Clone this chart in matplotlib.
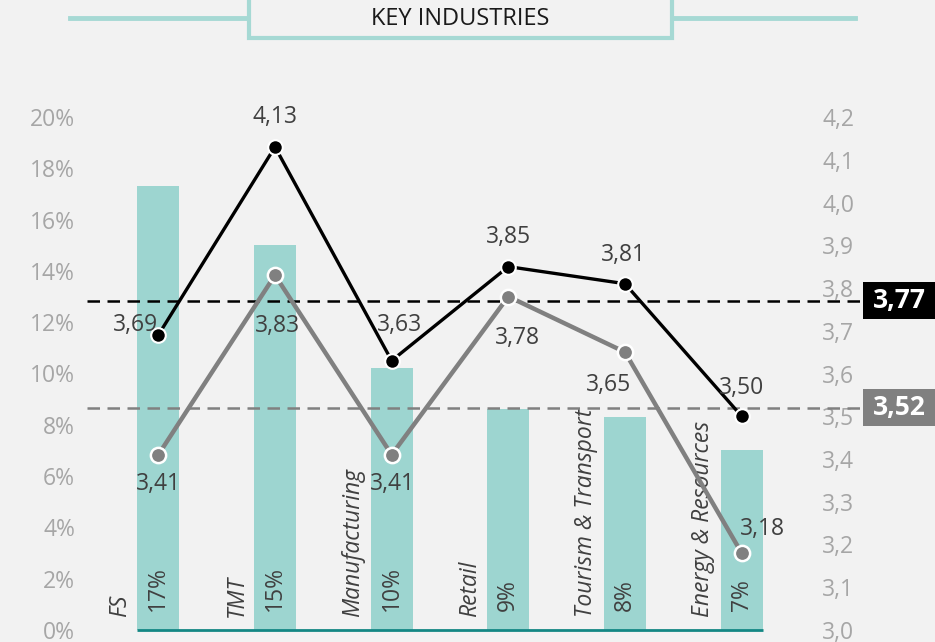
import matplotlib
matplotlib.use("Agg")
import matplotlib.pyplot as plt
import matplotlib.transforms as mtrans
from matplotlib.patches import Rectangle
import numpy as np

plt.rcParams['font.family'] = ['Open Sans', 'DejaVu Sans']

categories = ["FS", "TMT", "Manufacturing", "Retail", "Tourism & Transport", "Energy & Resources"]
share = [17.3, 15.0, 10.2, 8.6, 8.3, 7.0]
share_labels = ["17%", "15%", "10%", "9%", "8%", "7%"]
score_black = [3.69, 4.13, 3.63, 3.85, 3.81, 3.50]
score_grey = [3.41, 3.83, 3.41, 3.78, 3.65, 3.18]
avg_black = 3.77
avg_grey = 3.52
title = "KEY INDUSTRIES"

BG = '#f2f2f2'
BAR = '#9dd5d0'
TEAL_DARK = '#138784'
TITLE_TEAL = '#a6d9d4'
TICK = '#a6a6a6'
TXT = '#404040'

W, H = 935, 642
fig = plt.figure(figsize=(W/100, H/100), dpi=100, facecolor=BG)
ax = fig.add_axes([100/W, 12/H, 700/W, 513/H])
ax.set_facecolor(BG)
ax2 = ax.twinx()

x = np.arange(len(categories))
bw = 0.36
ax.bar(x, share, width=bw, color=BAR, zorder=2)
ax.hlines(0, x[0]-bw/2, x[-1]+bw/2, color=TEAL_DARK, lw=2, zorder=3, clip_on=False)
ax.set_xlim(-0.5, 5.5)
ax.set_ylim(0, 20)
ax.set_yticks(range(0, 21, 2))
ax.set_yticklabels([f"{v}%" for v in range(0, 21, 2)])
ax.set_xticks([])
ax.tick_params(axis='y', length=0, pad=18, labelsize=16.5, labelcolor=TICK)

for i in x:
    ax.text(i, 0.75, share_labels[i], rotation=90, ha='center', va='bottom',
            fontsize=16.5, color=TXT, zorder=4)
    ax.text(i - 0.33, 0.5, categories[i], rotation=90, ha='center', va='bottom',
            fontsize=16.5, color=TXT, style='italic', zorder=4)

ax2.set_ylim(3.0, 4.2)
rt = np.round(np.arange(3.0, 4.21, 0.1), 1)
ax2.set_yticks(rt)
ax2.set_yticklabels([f"{v:.1f}".replace('.', ',') for v in rt])
ax2.tick_params(axis='y', length=0, pad=16, labelsize=16.5, labelcolor=TICK)
for a in (ax, ax2):
    for s in a.spines.values():
        s.set_visible(False)

ax2.plot(x, score_grey, color='#808080', lw=3.2, zorder=5,
         marker='o', ms=11, mfc='#808080', mec='white', mew=1.8)
ax2.plot(x, score_black, color='black', lw=2.4, zorder=6,
         marker='o', ms=10.5, mfc='black', mec='white', mew=1.5)

# value labels (offsets in pixels)
black_off = [(-23, 10), (0, 30), (8, 36), (0, 30), (-2, 29), (0, 28)]
grey_off = [(0, -29), (3, -51), (1, -29), (9, -41), (-16, -33), (21, 24)]
for i in x:
    dx, dy = black_off[i]
    ax2.annotate(f"{score_black[i]:.2f}".replace('.', ','), (i, score_black[i]),
                 xytext=(dx, dy), textcoords='offset pixels', ha='center', va='center',
                 fontsize=16.5, color=TXT, zorder=7)
    dx, dy = grey_off[i]
    ax2.annotate(f"{score_grey[i]:.2f}".replace('.', ','), (i, score_grey[i]),
                 xytext=(dx, dy), textcoords='offset pixels', ha='center', va='center',
                 fontsize=16.5, color=TXT, zorder=7)

# average lines and badges
bt = mtrans.blended_transform_factory(fig.transFigure, ax2.transData)
bh = 37 / 513 * 1.2
for val, col in ((avg_black, 'black'), (avg_grey, '#808080')):
    ax2.plot([87/W, 865/W], [val, val], transform=bt, color=col, lw=1.8,
             dashes=(5, 3), clip_on=False, zorder=4)
    ax2.add_patch(Rectangle((863/W, val - bh/2), 72/W, bh, transform=bt,
                            facecolor=col, edgecolor='none', clip_on=False, zorder=8))
    ax2.text(899/W, val, f"{val:.2f}".replace('.', ','), transform=bt, ha='center',
             va='center', fontsize=19, fontweight='bold', color='white', zorder=9)

# title
fig.add_artist(plt.Line2D([70/W, 248/W], [1-18/H, 1-18/H], color=TITLE_TEAL, lw=3.5))
fig.add_artist(plt.Line2D([672/W, 855/W], [1-18/H, 1-18/H], color=TITLE_TEAL, lw=3.5))
fig.add_artist(Rectangle((249/W, 1-38/H), 423/W, 38/H + 0.01, transform=fig.transFigure,
                         facecolor=BG, edgecolor=TITLE_TEAL, lw=3))
fig.text(460/W, 1-19/H, title, ha='center', va='center', fontsize=17, color='#1a1a1a')

fig.savefig("out.png", dpi=100, facecolor=BG)
